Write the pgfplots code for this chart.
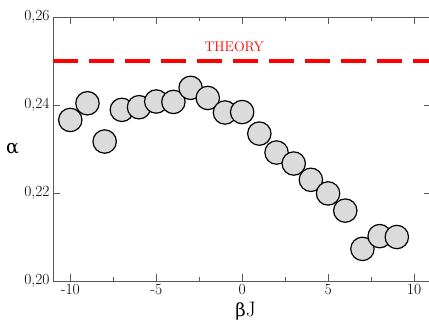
\documentclass[border=0pt]{standalone}
\usepackage{fontspec}
\newfontfamily\dvs{DejaVu Serif}
\usepackage{pgfplots}
\pgfplotsset{compat=1.18}
\begin{document}
\begin{tikzpicture}
\begin{axis}[
  at={(0,0)}, anchor=south west,
  scale only axis,
  width=378.1bp, height=264bp,
  xmin=-11, xmax=11, ymin=0.20, ymax=0.26,
  xtick={-10,-5,0,5,10},
  minor xtick={-7.5,-2.5,2.5,7.5},
  ytick={0.20,0.22,0.24,0.26},
  tick align=inside,
  major tick length=7bp, minor tick length=4bp,
  axis line style={draw=black!65, line width=0.9bp},
  every tick/.style={draw=black!65, line width=0.9bp},
  /pgf/number format/assume math mode=true,
  ticklabel style={font=\fontsize{15.5bp}{18bp}\selectfont},
  yticklabel style={/pgf/number format/.cd, fixed, fixed zerofill, precision=2, use comma},
  xticklabel style={/pgf/number format/.cd, fixed},
  every axis x label/.style={at={(rel axis cs:0.509,0)}, anchor=base, yshift=-35.5bp},
  every axis y label/.style={at={(rel axis cs:0,0.502)}, anchor=center, xshift=-40.6bp},
  xlabel={\fontsize{21bp}{24bp}\selectfont {\dvs\fontsize{18bp}{24bp}\selectfont β}J},
  ylabel={\dvs\fontsize{19bp}{24bp}\selectfont α},
]
\addplot[red, line width=4bp, dash pattern=on 25bp off 11bp] coordinates {(-11,0.25) (11,0.25)};
\addplot[only marks, mark=*, mark size=11.7bp, mark options={fill=black!14, draw=black, line width=1.2bp}] coordinates {
(-10,0.2366) (-9,0.2404) (-8,0.2317) (-7,0.2389) (-6,0.2395) (-5,0.2408) (-4,0.2407) (-3,0.2439) (-2,0.2416) (-1,0.2383) (0,0.2384) (1,0.2335) (2,0.2292) (3,0.2267) (4,0.2230) (5,0.2199) (6,0.2160) (7,0.2073) (8,0.2102) (9,0.2100)
};
\node[anchor=base west, text=red, font=\fontsize{14bp}{17bp}\selectfont, inner sep=0pt] at (axis cs:-2.2,0.2522) {THEORY};
\end{axis}
\pgfresetboundingbox
\path[use as bounding box] (-53.1bp,-41bp) rectangle (375.9bp,281bp);
\end{tikzpicture}
\end{document}
